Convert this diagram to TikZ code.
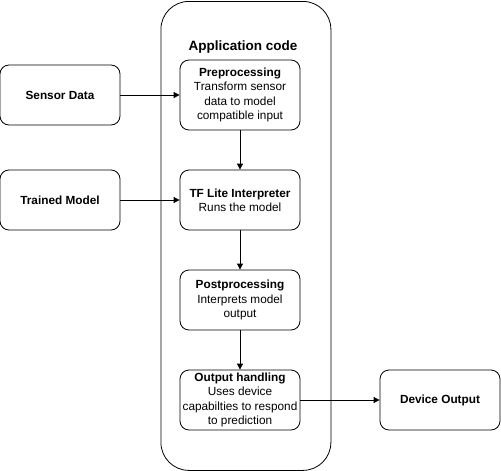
\documentclass[tikz,border=0pt]{standalone}
\usepackage{fontspec}
\setmainfont{Liberation Sans}
\usetikzlibrary{arrows.meta}
\begin{document}
\begin{tikzpicture}[x=1pt,y=-1pt,
  box/.style={draw, line width=0.8pt, rounded corners=9pt, minimum width=120pt, minimum height=60pt, align=center, font=\fontsize{11.8}{14.3}\selectfont, inner sep=0pt},
  plainbox/.style={box, font=\bfseries\fontsize{11.8}{14.3}\selectfont},
  conn/.style={draw, line width=0.8pt, -{Triangle[length=6pt,width=6pt]}}]
\useasboundingbox (0,0) rectangle (501,471);
\node[draw, line width=0.8pt, rounded corners=28pt, minimum width=170pt, minimum height=469pt, anchor=north west] (app) at (160.5,1) {};
\node[font=\bfseries\fontsize{13.5}{16}\selectfont] (applbl) at (243,47) {Application code};
\node[plainbox] (sensor) at (60,95) {Sensor Data};
\node[plainbox] (trained) at (60,200) {Trained Model};
\node[box, minimum height=70pt] (pre) at (240,95) {\textbf{Preprocessing}\\Transform sensor\\data to model\\compatible input};
\node[box] (tfl) at (240,200) {\textbf{TF Lite Interpreter}\\Runs the model};
\node[box] (post) at (240,300) {\textbf{Postprocessing}\\Interprets model\\output};
\node[box] (outh) at (240,400) {\textbf{Output handling}\\Uses device\\capabilties to respond\\to prediction};
\node[plainbox] (dev) at (440,400) {Device Output};
\draw[conn] (sensor) -- (pre);
\draw[conn] (trained) -- (tfl);
\draw[conn] (pre) -- (tfl);
\draw[conn] (tfl) -- (post);
\draw[conn] (post) -- (outh);
\draw[conn] (outh) -- (dev);
\end{tikzpicture}
\end{document}
